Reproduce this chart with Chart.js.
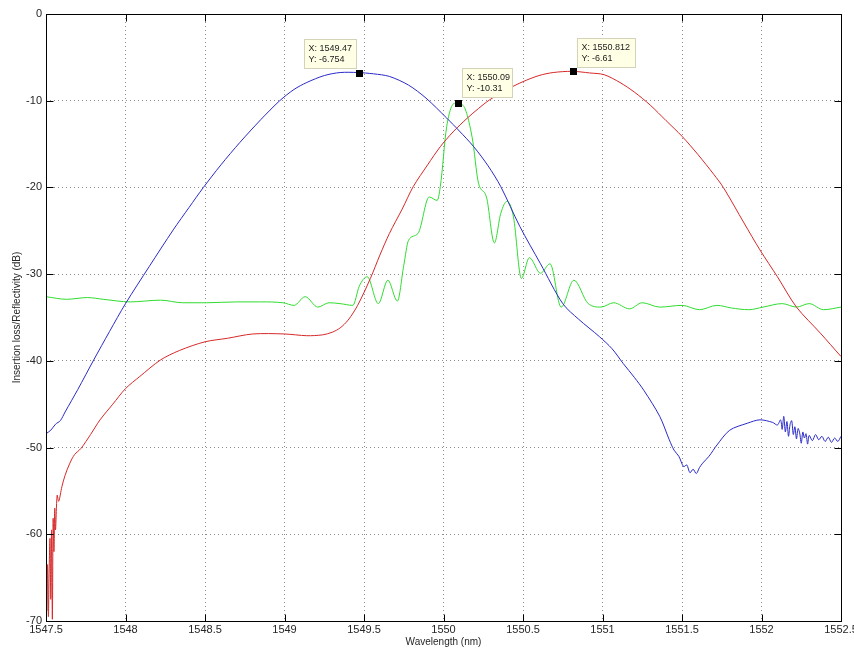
<!DOCTYPE html>
<html>
<head>
<meta charset="utf-8">
<script src="https://cdn.jsdelivr.net/npm/chart.js@4.4.0/dist/chart.umd.min.js"></script>
<style>
  body { margin: 0; background: #fff; }
  canvas { display: block; }
</style>
</head>
<body>
<canvas id="myChart" width="854" height="651"></canvas>
<script>
// Insertion loss (blue)
const blueX = [1547.50, 1547.53, 1547.56, 1547.59, 1547.62, 1547.70, 1547.80, 1547.90, 1548.00, 1548.15,
    1548.30, 1548.40, 1548.49, 1548.60, 1548.72, 1548.85, 1548.97, 1549.06, 1549.14, 1549.25, 1549.35,
    1549.46, 1549.56, 1549.66, 1549.78, 1549.89, 1550.02, 1550.10, 1550.19, 1550.28, 1550.36,
    1550.48, 1550.61, 1550.75, 1550.85, 1550.98, 1551.06, 1551.13, 1551.20, 1551.26, 1551.36,
    1551.42, 1551.45, 1551.48, 1551.51, 1551.53, 1551.55, 1551.57, 1551.59, 1551.61, 1551.63,
    1551.67, 1551.72, 1551.80, 1551.91, 1551.99, 1552.07, 1552.10, 1552.12, 1552.13, 1552.14,
    1552.15, 1552.16, 1552.17, 1552.18, 1552.19, 1552.20, 1552.21, 1552.22, 1552.23, 1552.24,
    1552.25, 1552.26, 1552.27, 1552.28, 1552.29, 1552.30, 1552.32, 1552.34, 1552.36, 1552.38,
    1552.40, 1552.42, 1552.44, 1552.46, 1552.48, 1552.50];
const blueY = [-48.4, -48.0, -47.3, -46.9, -45.9, -43.3, -39.9, -36.6, -33.4, -29.1,
    -24.9, -22.3, -20.0, -17.4, -14.8, -12.2, -10.0, -8.7, -7.9, -7.1, -6.75,
    -6.75, -6.9, -7.2, -8.2, -9.7, -12.0, -13.5, -15.3, -17.5, -19.9,
    -24.5, -28.8, -33.4, -35.2, -37.2, -38.6, -40.3, -41.9, -43.4, -46.4,
    -49.1, -50.3, -51.0, -52.2, -52.0, -52.9, -52.5, -53.0, -52.3, -51.8,
    -51.0, -49.7, -48.0, -47.2, -46.8, -47.1, -47.4, -46.8, -47.9, -46.4,
    -48.2, -47.0, -48.7, -47.3, -46.9, -48.5, -47.6, -49.0, -47.8, -48.3,
    -49.5, -48.2, -48.9, -48.4, -49.6, -48.6, -49.2, -48.5, -49.1, -48.7,
    -49.3, -48.8, -49.4, -48.9, -49.3, -48.7];

// Reflectivity (red)
const redX = [1547.500, 1547.505, 1547.510, 1547.515, 1547.520, 1547.525, 1547.530, 1547.535, 1547.540, 1547.545,
    1547.550, 1547.555, 1547.560, 1547.570, 1547.580, 1547.600, 1547.620, 1547.650, 1547.680, 1547.720,
    1547.780, 1547.840, 1547.920, 1548.000, 1548.090, 1548.220, 1548.340, 1548.500, 1548.640, 1548.800,
    1549.000, 1549.140, 1549.240, 1549.300, 1549.350, 1549.400, 1549.460, 1549.540, 1549.600, 1549.660,
    1549.740, 1549.810, 1549.900, 1549.980, 1550.060, 1550.150, 1550.220, 1550.290, 1550.400, 1550.500,
    1550.600, 1550.690, 1550.810, 1550.920, 1551.010, 1551.110, 1551.200, 1551.300, 1551.400, 1551.500,
    1551.600, 1551.700, 1551.760, 1551.890, 1551.990, 1552.100, 1552.220, 1552.370, 1552.500];
const redY = [-66.0, -68.8, -63.5, -69.5, -64.0, -60.5, -67.5, -59.5, -69.8, -58.2,
    -62.0, -57.0, -59.5, -55.5, -56.2, -54.5, -53.2, -51.8, -50.8, -50.1,
    -48.5, -46.8, -45.0, -43.2, -41.8, -39.9, -38.8, -37.8, -37.4, -36.9,
    -36.9, -37.1, -37.0, -36.7, -36.2, -35.3, -33.6, -30.5, -27.8, -25.3,
    -22.5, -19.9, -17.4, -15.3, -13.6, -12.0, -10.9, -9.9, -8.7, -7.8,
    -7.1, -6.75, -6.61, -6.8, -7.0, -7.9, -9.0, -10.5, -12.3, -14.1,
    -16.2, -18.5, -20.0, -24.1, -27.2, -30.3, -33.8, -36.8, -39.5];

// Grating response (green)
const greenX = [1547.50, 1547.63, 1547.76, 1547.86, 1548.03, 1548.22, 1548.36, 1548.51, 1548.70, 1548.85,
    1548.99, 1549.06, 1549.13, 1549.21, 1549.28, 1549.35, 1549.43, 1549.47, 1549.52, 1549.59,
    1549.65, 1549.71, 1549.75, 1549.78, 1549.84, 1549.91, 1549.96, 1549.98, 1550.02, 1550.07,
    1550.12, 1550.18, 1550.22, 1550.27, 1550.32, 1550.36, 1550.40, 1550.44, 1550.49, 1550.54,
    1550.61, 1550.67, 1550.74, 1550.82, 1550.91, 1550.99, 1551.07, 1551.17, 1551.25, 1551.36,
    1551.50, 1551.61, 1551.72, 1551.81, 1551.92, 1552.01, 1552.13, 1552.22, 1552.30, 1552.39,
    1552.50];
const greenY = [-32.6, -32.9, -32.7, -32.9, -33.2, -33.0, -33.3, -33.3, -33.2, -33.2,
    -33.3, -33.6, -32.6, -33.8, -33.3, -33.4, -33.6, -31.4, -30.3, -33.4,
    -30.7, -33.1, -29.0, -26.1, -25.3, -21.1, -21.5, -19.9, -13.0, -10.3,
    -10.5, -14.2, -19.5, -21.1, -26.4, -23.0, -21.6, -23.4, -30.5, -28.1,
    -29.9, -28.8, -33.8, -30.7, -33.4, -33.8, -33.3, -34.0, -33.3, -33.8,
    -33.6, -34.1, -33.6, -33.9, -34.1, -33.8, -33.4, -33.8, -33.4, -34.1,
    -33.8];

// Data tips
const tipX = [1549.47, 1550.09, 1550.812];
const tipY = [-6.754, -10.31, -6.61];
const tipLabelX = ['1549.47', '1550.09', '1550.812'];
const tipLabelY = ['-6.754', '-10.31', '-6.61'];

const xTicks = [1547.5, 1548, 1548.5, 1549, 1549.5, 1550, 1550.5, 1551, 1551.5, 1552, 1552.5];
const yTicks = [0, -10, -20, -30, -40, -50, -60, -70];

function toPoints(xs, ys) {
    return xs.map((x, i) => ({ x: x, y: ys[i] }));
}

// box placement of each tip relative to its marker
const tipBoxes = [
    { dx: -55, dy: -34, w: 52 },
    { dx: 4, dy: -35, w: 50 },
    { dx: 4, dy: -33, w: 58 }
];

const tipsPlugin = {
    id: 'tips',
    afterDatasetsDraw(chart) {
        const ctx = chart.ctx;
        const xs = chart.scales.x, ys = chart.scales.y;
        ctx.save();
        ctx.font = '9px "Liberation Sans", Arial, sans-serif';
        ctx.textBaseline = 'middle';
        tipX.forEach((tx, i) => {
            const px = xs.getPixelForValue(tx);
            const py = ys.getPixelForValue(tipY[i]);
            const b = tipBoxes[i];
            const bx = Math.round(px + b.dx) + 0.5, by = Math.round(py + b.dy) + 0.5;
            ctx.fillStyle = '#ffffe6';
            ctx.strokeStyle = '#d4d2b8';
            ctx.lineWidth = 1;
            ctx.fillRect(bx, by, b.w, 29);
            ctx.strokeRect(bx, by, b.w, 29);
            ctx.fillStyle = '#222';
            ctx.fillText('X: ' + tipLabelX[i], bx + 4, by + 9);
            ctx.fillText('Y: ' + tipLabelY[i], bx + 4, by + 20);
            ctx.fillStyle = '#000';
            ctx.fillRect(Math.round(px) - 3, Math.round(py) - 3, 7, 7);
        });
        ctx.restore();
    }
};

const framePlugin = {
    id: 'frame',
    afterDraw(chart) {
        const ctx = chart.ctx;
        const a = chart.chartArea;
        const xs = chart.scales.x, ys = chart.scales.y;
        const l = Math.round(a.left) + 0.5, r = Math.round(a.right) + 0.5;
        const t = Math.round(a.top) + 0.5, b = Math.round(a.bottom) + 0.5;
        ctx.save();
        ctx.strokeStyle = '#000';
        ctx.lineWidth = 1;
        ctx.strokeRect(l, t, r - l, b - t);
        ctx.beginPath();
        xTicks.forEach(v => {
            const p = Math.round(xs.getPixelForValue(v)) + 0.5;
            ctx.moveTo(p, b); ctx.lineTo(p, b - 7);
            ctx.moveTo(p, t); ctx.lineTo(p, t + 7);
        });
        yTicks.forEach(v => {
            const p = Math.round(ys.getPixelForValue(v)) + 0.5;
            ctx.moveTo(l, p); ctx.lineTo(l + 7, p);
            ctx.moveTo(r, p); ctx.lineTo(r - 7, p);
        });
        ctx.stroke();
        ctx.restore();
    }
};

const fontFamily = '"Liberation Sans", Arial, sans-serif';
const ctx = document.getElementById('myChart').getContext('2d');

const myChart = new Chart(ctx, {
    type: 'line',
    data: {
        datasets: [
            { data: toPoints(blueX, blueY), borderColor: '#2a2ac8', borderWidth: 1, pointRadius: 0, tension: 0.3 },
            { data: toPoints(redX, redY), borderColor: '#d62828', borderWidth: 1, pointRadius: 0, tension: 0.3 },
            { data: toPoints(greenX, greenY), borderColor: '#2fdc2f', borderWidth: 1, pointRadius: 0, cubicInterpolationMode: 'monotone' }
        ]
    },
    options: {
        responsive: false,
        animation: false,
        layout: { padding: { top: 14, right: 13, left: 0, bottom: 0 } },
        plugins: {
            legend: { display: false },
            tooltip: { enabled: false }
        },
        scales: {
            x: {
                type: 'linear',
                min: 1547.5,
                max: 1552.5,
                afterBuildTicks: s => { s.ticks = xTicks.map(v => ({ value: v })); },
                afterFit: s => { s.height = 30; s.paddingLeft = 0; s.paddingRight = 0; },
                grid: { color: '#8c8c8c', drawTicks: false, lineWidth: 1 },
                border: { display: false, dash: [1, 3] },
                ticks: {
                    padding: 2,
                    maxRotation: 0,
                    autoSkip: false,
                    color: '#262626',
                    font: { family: fontFamily, size: 11 },
                    callback: v => String(+v.toFixed(1))
                },
                title: {
                    display: true,
                    text: 'Wavelength (nm)',
                    color: '#262626',
                    font: { family: fontFamily, size: 10 },
                    padding: { top: 0, bottom: 3 }
                }
            },
            y: {
                min: -70,
                max: 0,
                afterBuildTicks: s => { s.ticks = yTicks.map(v => ({ value: v })); },
                afterFit: s => { s.width = 46; s.paddingTop = 0; s.paddingBottom = 0; },
                grid: { color: '#8c8c8c', drawTicks: false, lineWidth: 1 },
                border: { display: false, dash: [1, 3] },
                ticks: {
                    padding: 4,
                    color: '#262626',
                    font: { family: fontFamily, size: 11 }
                },
                title: {
                    display: true,
                    text: 'Insertion loss/Reflectivity (dB)',
                    color: '#262626',
                    font: { family: fontFamily, size: 10 },
                    padding: { top: 11, bottom: 0 }
                }
            }
        }
    },
    plugins: [tipsPlugin, framePlugin]
});
</script>
</body>
</html>
